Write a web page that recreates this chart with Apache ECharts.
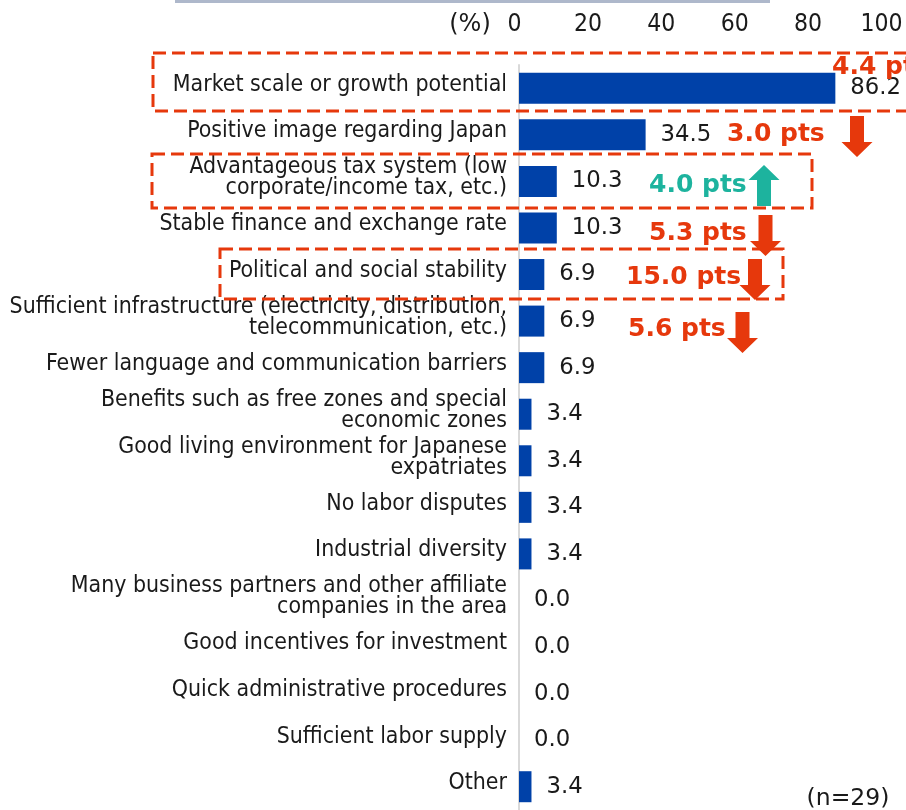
<!DOCTYPE html>
<html><head><meta charset="utf-8">
<script src="https://cdn.jsdelivr.net/npm/echarts@6/dist/echarts.min.js"></script>
<style>html,body{margin:0;padding:0;background:#fff}#c{width:906px;height:810px}</style>
</head><body><div id="c"></div>
<script>
const categories = [
  'Market scale or growth potential',
  'Positive image regarding Japan',
  'Advantageous tax system (low\ncorporate/income tax, etc.)',
  'Stable finance and exchange rate',
  'Political and social stability',
  'Sufficient infrastructure (electricity, distribution,\ntelecommunication, etc.)',
  'Fewer language and communication barriers',
  'Benefits such as free zones and special\neconomic zones',
  'Good living environment for Japanese\nexpatriates',
  'No labor disputes',
  'Industrial diversity',
  'Many business partners and other affiliate\ncompanies in the area',
  'Good incentives for investment',
  'Quick administrative procedures',
  'Sufficient labor supply',
  'Other'
];
const values = [86.2, 34.5, 10.3, 10.3, 6.9, 6.9, 6.9, 3.4, 3.4, 3.4, 3.4, 0.0, 0.0, 0.0, 0.0, 3.4];
const xTicks = [0, 20, 40, 60, 80, 100];
const changeValues = [4.4, 3.0, 4.0, 5.3, 15.0, 5.6];
const changeDirs = ['down', 'down', 'up', 'down', 'down', 'down'];
const sampleNote = '(n=29)';
const unitNote = '(%)';

// annotation layout (pixels)
const annLayout = [
  {tx: 832, ty: 67, ax: 935, ay: 70},
  {tx: 727, ty: 134, ax: 857, ay: 116},
  {tx: 649, ty: 185, ax: 764, ay: 165},
  {tx: 649, ty: 233, ax: 765.5, ay: 215},
  {tx: 626, ty: 277, ax: 755, ay: 259},
  {tx: 628, ty: 329, ax: 742.5, ay: 312}
];
const boxes = [
  [153, 53, 920, 111],
  [152, 154, 812, 208],
  [220, 249, 783, 299]
];
const RED = '#E6380C', TEAL = '#1DB39E';
const FONT = 'DejaVu Sans';
const CFONT = '"DejaVu Sans Condensed", "DejaVu Sans"';

function arrow(cx, y0, dir, color) {
  const h = 41, sw = 7, hw = 15.5, hh = 15;
  let pts;
  if (dir === 'down') {
    pts = [[cx - sw, y0], [cx + sw, y0], [cx + sw, y0 + h - hh], [cx + hw, y0 + h - hh], [cx, y0 + h], [cx - hw, y0 + h - hh], [cx - sw, y0 + h - hh]];
  } else {
    pts = [[cx - sw, y0 + h], [cx + sw, y0 + h], [cx + sw, y0 + hh], [cx + hw, y0 + hh], [cx, y0], [cx - hw, y0 + hh], [cx - sw, y0 + hh]];
  }
  return {type: 'polygon', shape: {points: pts}, style: {fill: color}, z: 10};
}

const graphics = [
  {type: 'line', shape: {x1: 175, y1: 1.5, x2: 770, y2: 1.5}, style: {stroke: '#AEB8CB', lineWidth: 3}},
  {type: 'text', x: 470, y: 25, style: {text: unitNote, font: '24px "' + FONT + '"', fill: '#1a1a1a', textAlign: 'center', textVerticalAlign: 'middle'}},
  {type: 'text', x: 848, y: 799, style: {text: sampleNote, font: '23.5px "' + FONT + '"', fill: '#1a1a1a', textAlign: 'center', textVerticalAlign: 'middle'}}
];
boxes.forEach(b => graphics.push({
  type: 'rect', shape: {x: b[0], y: b[1], width: b[2] - b[0], height: b[3] - b[1]},
  style: {fill: 'none', stroke: RED, lineWidth: 3, lineDash: [13, 6]}, z: 5
}));
changeValues.forEach((v, i) => {
  const L = annLayout[i];
  const col = changeDirs[i] === 'up' ? TEAL : RED;
  graphics.push({type: 'text', x: L.tx, y: L.ty, z: 11, style: {text: v.toFixed(1) + ' pts', font: 'bold 25px "' + FONT + '"', fill: col, textAlign: 'left', textVerticalAlign: 'middle'}});
  graphics.push(arrow(L.ax, L.ay, changeDirs[i], col));
});

const chart = echarts.init(document.getElementById('c'), null, {renderer: 'canvas'});
chart.setOption({
  animation: false,
  backgroundColor: '#fff',
  textStyle: {fontFamily: FONT},
  grid: {left: 519, right: 20, top: 65, height: 752},
  xAxis: {
    type: 'value', position: 'top', min: xTicks[0], max: xTicks[xTicks.length - 1], interval: 20,
    axisLine: {show: false}, axisTick: {show: false}, splitLine: {show: false},
    axisLabel: {fontSize: 24.5, color: '#1a1a1a', margin: 28, padding: [0, 9, 0, 0], fontFamily: CFONT}
  },
  yAxis: {
    type: 'category', inverse: true, data: categories,
    axisLine: {show: true, lineStyle: {color: '#D9D9D9', width: 2}},
    axisTick: {show: false},
    axisLabel: {
      interval: 0, margin: 12, fontSize: 22.9, lineHeight: 21, color: '#1a1a1a', align: 'right', fontFamily: CFONT,
      formatter: v => v + '\n{s| }',
      rich: {s: {fontSize: 1, lineHeight: 7}}
    }
  },
  series: [{
    type: 'bar', data: values, barWidth: 31,
    itemStyle: {color: '#0041A8'},
    label: {show: true, position: 'right', distance: 15, fontSize: 22.8, color: '#1a1a1a', fontFamily: FONT,
      formatter: p => p.value.toFixed(1)}
  }],
  graphic: graphics
});
</script>
</body></html>
